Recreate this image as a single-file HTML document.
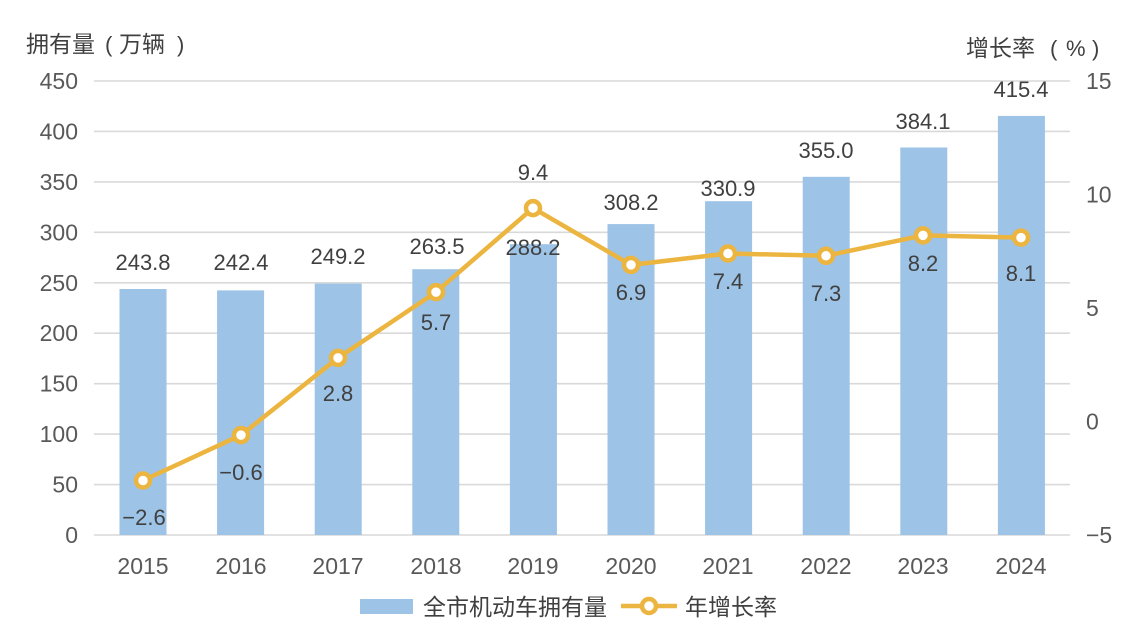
<!DOCTYPE html>
<html><head><meta charset="utf-8"><style>
html,body{margin:0;padding:0;background:#fff;}
svg{display:block;}
text{font-family:"Liberation Sans","Noto Sans CJK SC",sans-serif;}
.cjk{font-family:"Noto Sans CJK SC","WenQuanYi Zen Hei",sans-serif;}
</style></head><body>
<svg width="1144" height="642" viewBox="0 0 1144 642" xmlns="http://www.w3.org/2000/svg">
<rect width="1144" height="642" fill="#fff"/>
<!-- gridlines -->
<g stroke="#d9d9d9" stroke-width="1.6">
<line x1="94" y1="81" x2="1070" y2="81"/>
<line x1="94" y1="131.4" x2="1070" y2="131.4"/>
<line x1="94" y1="181.9" x2="1070" y2="181.9"/>
<line x1="94" y1="232.3" x2="1070" y2="232.3"/>
<line x1="94" y1="282.8" x2="1070" y2="282.8"/>
<line x1="94" y1="333.2" x2="1070" y2="333.2"/>
<line x1="94" y1="383.7" x2="1070" y2="383.7"/>
<line x1="94" y1="434.1" x2="1070" y2="434.1"/>
<line x1="94" y1="484.6" x2="1070" y2="484.6"/>
<line x1="94" y1="535" x2="1070" y2="535"/>
</g>
<!-- titles -->
<g fill="#404040">
<text class="cjk" x="26" y="52" font-size="23">拥有量</text>
<text x="105" y="52" font-size="22">(</text>
<text class="cjk" x="119" y="52" font-size="23">万辆</text>
<text x="177" y="52" font-size="22">)</text>
<text class="cjk" x="966" y="56" font-size="23">增长率</text>
<text x="1050" y="56" font-size="22">(</text>
<text x="1066" y="56" font-size="22">%</text>
<text x="1092" y="56" font-size="22">)</text>
</g>
<!-- left ticks -->
<g font-size="23" fill="#595959" text-anchor="end">
<text x="78" y="89">450</text>
<text x="78" y="139.4">400</text>
<text x="78" y="189.9">350</text>
<text x="78" y="240.3">300</text>
<text x="78" y="290.8">250</text>
<text x="78" y="341.2">200</text>
<text x="78" y="391.7">150</text>
<text x="78" y="442.1">100</text>
<text x="78" y="492.6">50</text>
<text x="78" y="543">0</text>
</g>
<!-- right ticks -->
<g font-size="23" fill="#595959" text-anchor="start">
<text x="1086" y="89">15</text>
<text x="1086" y="202.5">10</text>
<text x="1086" y="316">5</text>
<text x="1086" y="429.5">0</text>
<text x="1086" y="543">−5</text>
</g>
<!-- bars -->
<g fill="#9dc3e6">
<rect x="119.5" y="289" width="47" height="246"/>
<rect x="217.1" y="290.4" width="47" height="244.6"/>
<rect x="314.7" y="283.6" width="47" height="251.4"/>
<rect x="412.3" y="269.2" width="47" height="265.8"/>
<rect x="509.9" y="244.2" width="47" height="290.8"/>
<rect x="607.5" y="224.1" width="47" height="310.9"/>
<rect x="705.1" y="201.2" width="47" height="333.8"/>
<rect x="802.7" y="176.8" width="47" height="358.2"/>
<rect x="900.3" y="147.5" width="47" height="387.5"/>
<rect x="997.9" y="115.9" width="47" height="419.1"/>
</g>
<!-- bar labels -->
<g font-size="22" fill="#404040" text-anchor="middle">
<text x="143" y="270">243.8</text>
<text x="241" y="270">242.4</text>
<text x="338" y="264">249.2</text>
<text x="437" y="254">263.5</text>
<text x="533" y="255">288.2</text>
<text x="631" y="210">308.2</text>
<text x="728" y="196">330.9</text>
<text x="826" y="158">355.0</text>
<text x="923" y="129">384.1</text>
<text x="1021" y="97">415.4</text>
</g>
<!-- line -->
<polyline fill="none" stroke="#ecb540" stroke-width="4.5" stroke-linejoin="round"
points="143,480.5 241,435.1 338,357.9 436,292.1 533,208.1 631,264.9 728,253.5 826,255.8 923,235.4 1021,237.6"/>
<g fill="#fff" stroke="#ecb540" stroke-width="4.5">
<circle cx="143" cy="480.5" r="7"/>
<circle cx="241" cy="435.1" r="7"/>
<circle cx="338" cy="357.9" r="7"/>
<circle cx="436" cy="292.1" r="7"/>
<circle cx="533" cy="208.1" r="7"/>
<circle cx="631" cy="264.9" r="7"/>
<circle cx="728" cy="253.5" r="7"/>
<circle cx="826" cy="255.8" r="7"/>
<circle cx="923" cy="235.4" r="7"/>
<circle cx="1021" cy="237.6" r="7"/>
</g>
<!-- line labels -->
<g font-size="22" fill="#404040" text-anchor="middle">
<text x="144" y="525">−2.6</text>
<text x="241" y="480">−0.6</text>
<text x="338" y="401">2.8</text>
<text x="436" y="330">5.7</text>
<text x="533" y="180">9.4</text>
<text x="631" y="300">6.9</text>
<text x="728" y="289">7.4</text>
<text x="826" y="301">7.3</text>
<text x="923" y="271">8.2</text>
<text x="1021" y="281">8.1</text>
</g>
<!-- x labels -->
<g font-size="23" fill="#595959" text-anchor="middle">
<text x="143" y="574">2015</text>
<text x="241" y="574">2016</text>
<text x="338" y="574">2017</text>
<text x="436" y="574">2018</text>
<text x="533" y="574">2019</text>
<text x="631" y="574">2020</text>
<text x="728" y="574">2021</text>
<text x="826" y="574">2022</text>
<text x="923" y="574">2023</text>
<text x="1021" y="574">2024</text>
</g>
<!-- legend -->
<rect x="360" y="599" width="53" height="15" fill="#9dc3e6"/>
<text class="cjk" x="423" y="615" font-size="23" fill="#404040">全市机动车拥有量</text>
<line x1="621" y1="606" x2="677" y2="606" stroke="#ecb540" stroke-width="4.5"/>
<circle cx="649" cy="606" r="7" fill="#fff" stroke="#ecb540" stroke-width="4.5"/>
<text class="cjk" x="685" y="615" font-size="23" fill="#404040">年增长率</text>
</svg>
</body></html>
